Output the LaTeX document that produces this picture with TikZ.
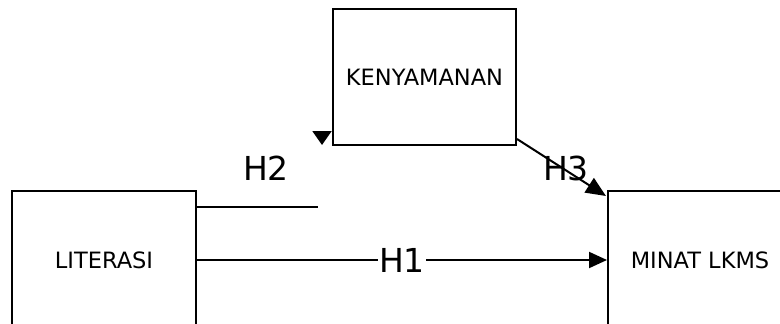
\documentclass[tikz,border=0pt]{standalone}
\usepackage{fontspec}
\setmainfont{DejaVu Sans}
\usetikzlibrary{arrows.meta,calc}

\begin{document}
\begin{tikzpicture}[x=1pt,y=-1pt,
  varbox/.style={draw,line width=2pt,fill=white,inner sep=0pt,font=\fontsize{22.5}{26}\selectfont},
  link/.style={line width=2pt,-{Triangle[length=18pt,width=16pt]}},
  hyp/.style={inner sep=1pt,font=\fontsize{33}{38}\selectfont}]
  \useasboundingbox (0,0) rectangle (780,324);
  \clip (0,0) rectangle (780,324);
  % variables
  \node[varbox,minimum width=184pt,minimum height=138pt] (lit) at (104,260) {LITERASI};
  \node[varbox,minimum width=183pt,minimum height=136pt] (ken) at (424.5,77) {KENYAMANAN};
  \node[varbox,minimum width=184pt,minimum height=138pt] (mint) at (700,260) {MINAT LKMS};
  % H1
  \draw[link] (lit.east) -- node[hyp,fill=white] {H1} (mint.west);
  % H2 (broken connector)
  \coordinate (h2end) at (318,207);
  \coordinate (h2tip) at (322,145);
  \draw[line width=2pt] (lit.east |- h2end) -- (h2end);
  \draw[link,-{Triangle[length=14pt,width=19pt]}] ($(h2tip)+(0,-14)$) -- (h2tip);
  \node[hyp] (h2) at (266,168) {H2};
  % H3
  \node[hyp] (h3) at (566,168) {H3};
  \draw[link,-{Triangle[length=20pt,width=17pt]}] ($(ken.south east)+(0,-7)$) -- ($(mint.north west)+(-1,6)$);
\end{tikzpicture}
\end{document}
